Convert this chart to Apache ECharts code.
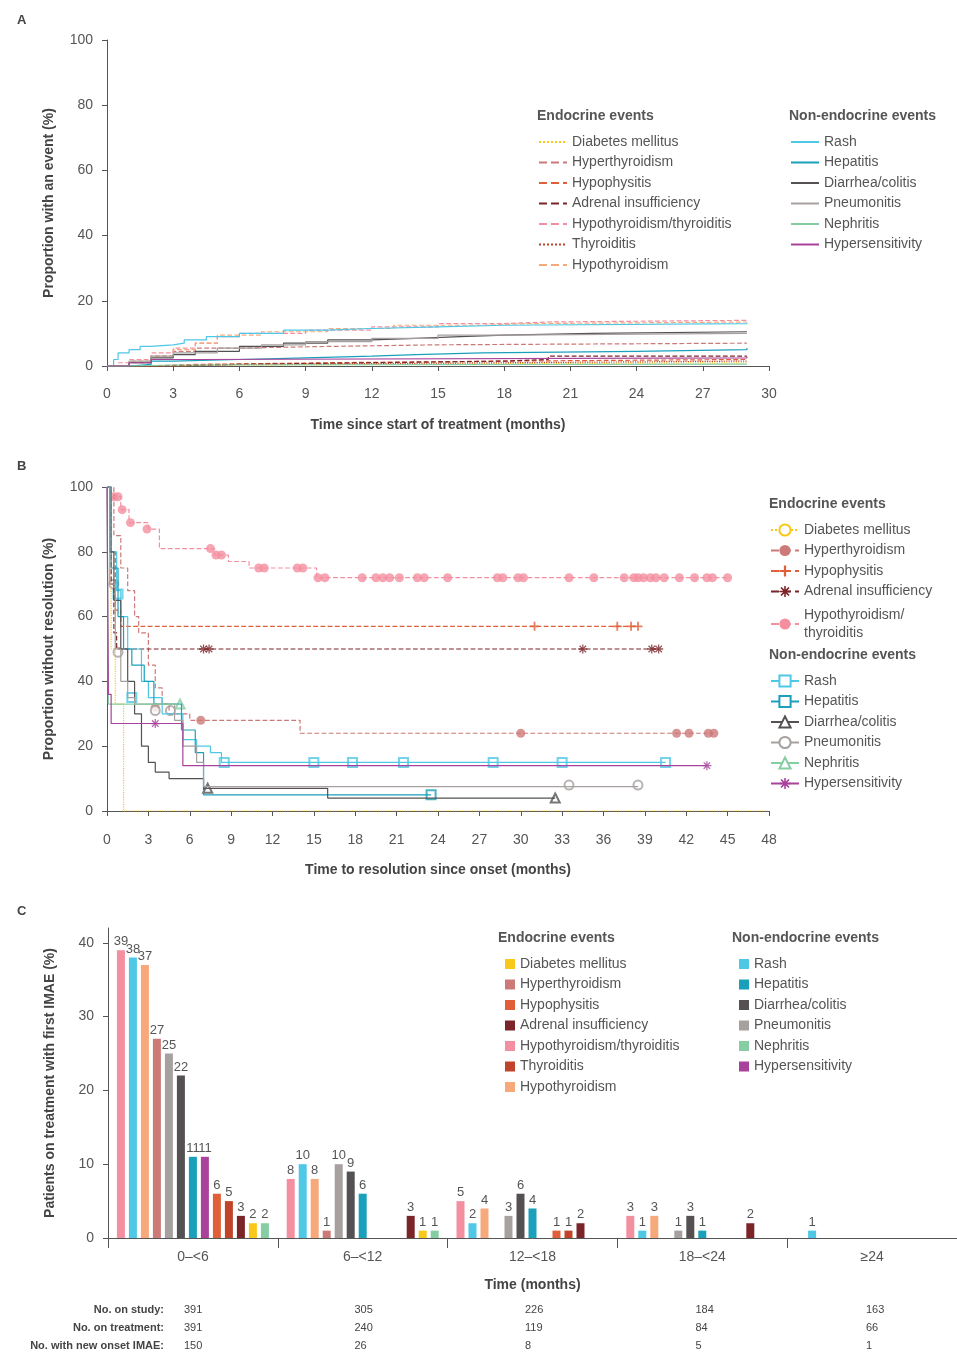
<!DOCTYPE html>
<html><head><meta charset="utf-8">
<script src="https://cdn.jsdelivr.net/npm/echarts@6/dist/echarts.min.js"></script>
<style>
body{margin:0;background:#fff;font-family:"Liberation Sans",Arial,sans-serif;}
.p{position:absolute;left:0;width:957px;}
.lab{position:absolute;left:17px;font:bold 13px "Liberation Sans",sans-serif;color:#444;}
</style></head><body>
<div id="a" class="p" style="top:0;height:450px"></div>
<div id="b" class="p" style="top:450px;height:445px"></div>
<div id="c" class="p" style="top:895px;height:459px"></div>
<div class="lab" style="top:12px">A</div>
<div class="lab" style="top:458px">B</div>
<div class="lab" style="top:903px">C</div>
<script>
// ---- data ----
var names = ['Diabetes mellitus','Hyperthyroidism','Hypophysitis','Adrenal insufficiency','Hypothyroidism/thyroiditis','Thyroiditis','Hypothyroidism',
             'Rash','Hepatitis','Diarrhea/colitis','Pneumonitis','Nephritis','Hypersensitivity'];
var colors = {'Diabetes mellitus':'#f8c81a','Hyperthyroidism':'#cc7a78','Hypophysitis':'#e05f38','Adrenal insufficiency':'#7b2528',
  'Hypothyroidism/thyroiditis':'#f48fa0','Thyroiditis':'#c0442a','Hypothyroidism':'#f7a97c','Rash':'#4fc8e6','Hepatitis':'#1aa0bb',
  'Diarrhea/colitis':'#555152','Pneumonitis':'#a6a09f','Nephritis':'#86cda3','Hypersensitivity':'#a9429a'};

// panel A: cumulative incidence (%)
var incA = {
  'Diabetes mellitus': [[0,0],[3,0.3],[6,0.7],[18,1],[29,1]],
  'Hyperthyroidism': [[0,0],[1,1],[2,3],[3,4.5],[4,5.5],[6,6],[10,6.5],[15,7],[29,7]],
  'Hypophysitis': [[0,0],[2,0.5],[4,1],[10,1.5],[18,2],[29,2]],
  'Adrenal insufficiency': [[0,0],[3,0.5],[6,1],[12,1.5],[18,2],[20,3],[29,3]],
  'Hypothyroidism/thyroiditis': [[0,0],[0.5,1],[1,2],[2,4],[3,5.5],[4,7],[5,9],[6,10],[9,11],[12,12],[15,13],[18,13.5],[20,14],[29,14]],
  'Thyroiditis': [[0,0],[3,0.5],[6,1],[18,1.5],[29,1.5]],
  'Hypothyroidism': [[0,0],[1,1.5],[2,3],[3,5],[4,7],[5,9.5],[7,10.5],[10,11.5],[13,12.5],[17,13],[19,13.5],[29,13.5]],
  'Rash': [[0,0],[0.3,2],[0.5,4],[1,5],[1.5,6],[2,6.5],[3,7],[3.5,8],[4.5,9],[6,10],[8,11],[10,11.5],[12,12],[15,12.5],[18,13],[29,13.3]],
  'Hepatitis': [[0,0],[1,0.5],[2,1.5],[3,2],[6,2.5],[9,3],[12,3.5],[14,4],[17,4.5],[24,5],[29,5.5]],
  'Diarrhea/colitis': [[0,0],[1,1],[2,2.5],[3,3.5],[4,4.5],[6,6],[8,7],[10,8],[12,8.5],[14,9],[16,9.5],[18,10],[22,10.5],[29,10.5]],
  'Pneumonitis': [[0,0],[1,1.5],[2,3],[3,4],[5,5.5],[7,6.5],[9,7.5],[12,8.5],[15,9.5],[18,10],[29,10]],
  'Nephritis': [[0,0],[1,0.3],[3,0.6],[29,0.8]],
  'Hypersensitivity': [[0,0],[1,1],[2,2],[4,2.5],[29,2.8]]
};

// panel B: proportion without resolution (%) and censored marks
var kmB = {
  'Diabetes mellitus': [[0,100],[0.3,50],[0.6,33],[1.2,33],[1.2,0],[48,0]],
  'Hyperthyroidism': [[0,100],[0.5,85],[1,75],[1.5,68],[2,60],[2.3,55],[3,45],[3.5,38],[4,33],[4.5,30],[6,28],[13.5,28],[14,24],[44,24]],
  'Hypophysitis': [[0,100],[0.3,80],[0.6,62],[1,57],[38.5,57]],
  'Adrenal insufficiency': [[0,100],[0.3,70],[0.5,55],[0.7,50],[40,50]],
  'Hypothyroidism/thyroiditis': [[0,100],[0.2,97],[1,93],[1.6,89],[3,87],[3.8,81],[7.8,79],[8.8,77],[10.3,75],[15.2,72],[45,72]],
  'Rash': [[0,100],[0.3,80],[0.7,68],[1,60],[1.5,50],[2.5,40],[3,35],[4,30],[5.5,22],[6.5,20],[7.5,18],[8.3,15],[40.5,15]],
  'Hepatitis': [[0,100],[0.3,75],[0.8,60],[1.2,50],[1.8,45],[2.7,40],[3.4,33],[5.4,25],[6.4,18],[7,5],[23.5,5]],
  'Diarrhea/colitis': [[0,100],[0.2,80],[0.5,65],[1,50],[1.5,40],[2,30],[2.5,20],[3,15],[3.5,12],[4.5,10],[7,7],[16,7],[16,4],[32.5,4]],
  'Pneumonitis': [[0,100],[0.2,70],[0.6,50],[1,40],[1.5,35],[2,33],[4.5,33],[4.9,28],[5.5,20],[6.5,15],[7,7.5],[38.5,7.5]],
  'Nephritis': [[0,100],[0.1,33],[5.3,33]],
  'Hypersensitivity': [[0,100],[0.1,36],[0.3,27],[5.2,27],[5.5,14],[43.5,14]]
};
var censB = {
  'Hyperthyroidism': [[3.5,32],[6.8,28],[30,24],[41.3,24],[42.2,24],[43.6,24],[44,24]],
  'Hypophysitis': [[31,57],[37,57],[38,57],[38.5,57]],
  'Adrenal insufficiency': [[7,50],[7.4,50],[34.5,50],[39.5,50],[40,50]],
  'Hypothyroidism/thyroiditis': [[0.5,97],[0.8,97],[1.1,93],[1.7,89],[2.9,87],[7.5,81],[7.9,79],[8.3,79],[11,75],[11.4,75],[13.8,75],[14.2,75],
    [15.3,72],[15.8,72],[18.5,72],[19.5,72],[20,72],[20.5,72],[21.2,72],[22.5,72],[23,72],[24.7,72],[28.3,72],[28.7,72],[29.8,72],[30.2,72],
    [33.5,72],[35.3,72],[37.5,72],[38.2,72],[38.5,72],[38.9,72],[39.4,72],[39.8,72],[40.4,72],[41.5,72],[42.6,72],[43.5,72],[43.9,72],[45,72]],
  'Rash': [[0.8,67],[1.8,35],[8.5,15],[15,15],[17.8,15],[21.5,15],[28,15],[33,15],[40.5,15]],
  'Hepatitis': [[23.5,5]],
  'Diarrhea/colitis': [[7.3,7],[32.5,4]],
  'Pneumonitis': [[0.5,70],[0.8,49],[3.5,31],[4.6,31],[33.5,8],[38.5,8]],
  'Nephritis': [[5.3,33]],
  'Hypersensitivity': [[3.5,27],[43.5,14]]
};

// panel C: patients with first IMAE (%) by period, bar slot order
var periods = ['0\u2013<6','6\u2013<12','12\u2013<18','18\u2013<24','\u226524'];
var barOrder = ['Hypothyroidism/thyroiditis','Rash','Hypothyroidism','Hyperthyroidism','Pneumonitis','Diarrhea/colitis','Hepatitis',
                'Hypersensitivity','Hypophysitis','Thyroiditis','Adrenal insufficiency','Diabetes mellitus','Nephritis'];
var barVals = {
  'Hypothyroidism/thyroiditis': [39,8,5,3,0],
  'Rash': [38,10,2,1,1],
  'Hypothyroidism': [37,8,4,3,0],
  'Hyperthyroidism': [27,1,0,0,0],
  'Pneumonitis': [25,10,3,1,0],
  'Diarrhea/colitis': [22,9,6,3,0],
  'Hepatitis': [11,6,4,1,0],
  'Hypersensitivity': [11,0,0,0,0],
  'Hypophysitis': [6,0,1,0,0],
  'Thyroiditis': [5,0,1,0,0],
  'Adrenal insufficiency': [3,3,2,2,0],
  'Diabetes mellitus': [2,1,0,0,0],
  'Nephritis': [2,1,0,0,0]
};
var onStudy = [391,305,226,184,163];
var onTreat = [391,240,119,84,66];
var newOnset = [150,26,8,5,1];

var endo = names.slice(0,7), nonEndo = names.slice(7);
var dashA = {'Thyroiditis':'dotted','Diabetes mellitus':'dotted'};
var plus = 'path://M4,0h2v4h4v2h-4v4h-2v-4h-4v-2h4z';
var star = 'path://M4.3,0h1.4v3.3l2.4-2.4l1,1l-2.4,2.4h3.3v1.4h-3.3l2.4,2.4l-1,1l-2.4-2.4v3.3h-1.4v-3.3l-2.4,2.4l-1-1l2.4-2.4h-3.3v-1.4h3.3l-2.4-2.4l1-1l2.4,2.4z';
var symB = {'Diabetes mellitus':'emptyCircle','Hyperthyroidism':'circle','Hypophysitis':plus,'Adrenal insufficiency':star,
  'Hypothyroidism/thyroiditis':'circle','Rash':'emptyRect','Hepatitis':'emptyRect','Diarrhea/colitis':'emptyTriangle',
  'Pneumonitis':'emptyCircle','Nephritis':'emptyTriangle','Hypersensitivity':star};

var txt = '#555';
var font = '"Liberation Sans", Arial, sans-serif';
function axisBase() {
  return { axisLine:{show:true,lineStyle:{color:'#555'}}, axisTick:{show:true,lineStyle:{color:'#555'}},
    axisLabel:{color:txt,fontSize:14,fontFamily:font,margin:14}, splitLine:{show:false},
    nameTextStyle:{color:'#444',fontSize:14,fontWeight:'bold',fontFamily:font}, nameLocation:'middle' };
}
function legendCol(data, left, top, extra) {
  return Object.assign({ data:data, orient:'vertical', left:left, top:top, itemGap:6.5, itemWidth:28, itemHeight:14,
    textStyle:{color:txt,fontSize:14,fontFamily:font}, selectedMode:false }, extra || {});
}
function title(text, left, top) {
  return { type:'text', left:left, top:top, style:{ text:text, fill:'#555', font:'bold 14px ' + font } };
}

// ---- panel A ----
var chartA = echarts.init(document.getElementById('a'));
var seriesA = names.map(function (n) {
  var isEndo = endo.indexOf(n) >= 0;
  return { name:n, type:'line', step:'end', data:incA[n], showSymbol:false, symbol:'none', animation:false,
    lineStyle:{ color:colors[n], width:1.2, type: dashA[n] || (isEndo ? 'dashed' : 'solid') }, itemStyle:{color:colors[n]} };
});
var noSym = { itemStyle:{opacity:0} };
chartA.setOption({
  grid:{ left:107, top:40, width:662, height:326 },
  xAxis:Object.assign(axisBase(), { type:'value', min:0, max:30, interval:3, name:'Time since start of treatment (months)', nameGap:52,
    axisLabel:{color:txt,fontSize:14,fontFamily:font,margin:21} }),
  yAxis:Object.assign(axisBase(), { type:'value', min:0, max:100, interval:20, name:'Proportion with an event (%)', nameGap:51 }),
  legend:[ legendCol(endo, 533, 130, noSym), legendCol(nonEndo, 785, 130, noSym) ],
  graphic:[ title('Endocrine events', 537, 109), title('Non-endocrine events', 789, 109) ],
  series:seriesA
});

// ---- panel B ----
var chartB = echarts.init(document.getElementById('b'));
var namesB = names.filter(function (n) { return kmB[n]; });
var seriesB = [];
namesB.forEach(function (n) {
  var isEndo = endo.indexOf(n) >= 0;
  seriesB.push({ name:n, type:'line', step:'end', data:kmB[n], showSymbol:false, symbol:symB[n], symbolSize:8, animation:false,
    lineStyle:{ color:colors[n], width:1.2, type: n === 'Diabetes mellitus' ? 'dotted' : (isEndo ? 'dashed' : 'solid') },
    itemStyle:{color:colors[n]} });
});
namesB.forEach(function (n) {
  if (!censB[n]) return;
  seriesB.push({ name:n, type:'scatter', data:censB[n], symbol:symB[n], animation:false,
    symbolSize:9, itemStyle:{color:colors[n]} });
});
var endoB = namesB.filter(function (n) { return endo.indexOf(n) >= 0; });
chartB.setOption({
  grid:{ left:107, top:37, width:662, height:324 },
  xAxis:Object.assign(axisBase(), { type:'value', min:0, max:48, interval:3, name:'Time to resolution since onset (months)', nameGap:52,
    axisLabel:{color:txt,fontSize:14,fontFamily:font,margin:22} }),
  yAxis:Object.assign(axisBase(), { type:'value', min:0, max:100, interval:20, name:'Proportion without resolution (%)', nameGap:51 }),
  legend:[
    legendCol(endoB.slice(0,4), 765, 68),
    legendCol(['Hypothyroidism/thyroiditis'], 765, 151, { formatter:function () { return 'Hypothyroidism/\nthyroiditis'; },
      textStyle:{color:txt,fontSize:14,fontFamily:font,lineHeight:18} }),
    legendCol(nonEndo, 765, 219)
  ],
  graphic:[ title('Endocrine events', 769, 47), title('Non-endocrine events', 769, 198) ],
  series:seriesB
});

// ---- panel C ----
var chartC = echarts.init(document.getElementById('c'));
var seriesC = barOrder.map(function (n) {
  return { name:n, type:'bar', barWidth:8, barGap:'50%', animation:false, itemStyle:{color:colors[n]},
    data: barVals[n].map(function (v) { return v > 0 ? v : null; }),
    label:{ show:true, position:'top', distance:2, color:txt, fontSize:13, fontFamily:font } };
});
var tableG = [];
var rows = [['No. on study:', onStudy], ['No. on treatment:', onTreat], ['No. with new onset IMAE:', newOnset]];
rows.forEach(function (r, i) {
  tableG.push({ type:'text', right:957-164, top:409 + i*18, style:{ text:r[0], fill:'#444', font:'bold 11px ' + font, textAlign:'right' } });
  r[1].forEach(function (v, j) {
    tableG.push({ type:'text', left:194 + j*170.5 - 10, top:409 + i*18, style:{ text:String(v), fill:'#444', font:'11px ' + font, textAlign:'center', width:20 } });
  });
});
var sq = { itemWidth:10, itemHeight:10, icon:'rect', itemGap:6.5 };
chartC.setOption({
  grid:{ left:108, top:33, right:0, height:310 },
  xAxis:Object.assign(axisBase(), { type:'category', data:periods, name:'Time (months)', nameGap:40,
    axisTick:{show:true,length:10,lineStyle:{color:'#555'}}, axisLabel:{color:txt,fontSize:14,fontFamily:font,margin:12} }),
  yAxis:Object.assign(axisBase(), { type:'value', min:0, max:42, interval:10, name:'Patients on treatment with first IMAE (%)', nameGap:51,
    axisLabel:{color:txt,fontSize:14,fontFamily:font,showMaxLabel:false,margin:14} }),
  legend:[
    Object.assign(legendCol(endo, 500, 57), sq),
    Object.assign(legendCol(nonEndo, 734, 57), sq)
  ],
  graphic:[ title('Endocrine events', 498, 36), title('Non-endocrine events', 732, 36) ].concat(tableG),
  series:seriesC
});
</script></body></html>
